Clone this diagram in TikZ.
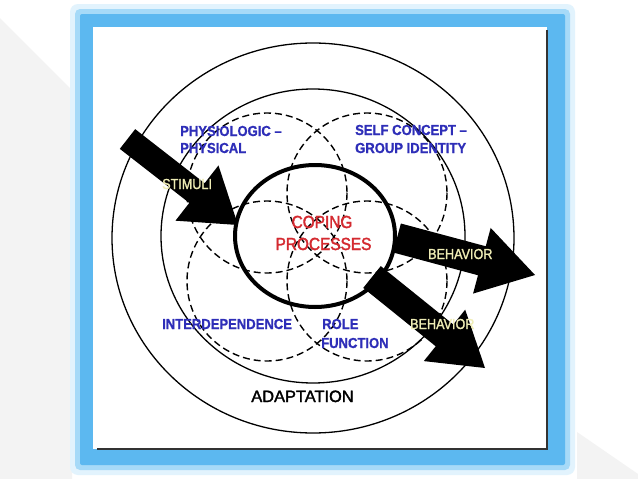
\documentclass[tikz,border=0pt]{standalone}
\usepackage{fontspec}
\setmainfont{Liberation Sans}
\newfontfamily\condfont[FakeStretch=0.9,FakeBold=0.8]{Liberation Sans}
\newfontfamily\yelfont[FakeStretch=0.87,FakeBold=1.5]{Liberation Sans}
\newfontfamily\redfont[FakeStretch=0.88,FakeBold=2]{Liberation Sans}
\newfontfamily\adaptfont[FakeBold=2]{Liberation Sans}
\usetikzlibrary{calc}
\definecolor{modeblue}{HTML}{2E2EB8}
\definecolor{copered}{HTML}{D42A30}
\definecolor{yeltext}{HTML}{EFEDB5}
\definecolor{glowA}{HTML}{E2F3FD}
\definecolor{glowB}{HTML}{A6DAF8}
\definecolor{glowC}{HTML}{5CB8F0}
\definecolor{pagegray}{HTML}{F3F3F3}
\newcommand\blockarrow[5]{%
  \coordinate (hb) at ($(#2)!#5!(#1)$);
  \fill[black] ($(#1)!#3!90:(#2)$) -- ($(hb)!#3!90:(#2)$) -- ($(hb)!#4!90:(#2)$)
    -- (#2) -- ($(hb)!#4!-90:(#2)$) -- ($(hb)!#3!-90:(#2)$) -- ($(#1)!#3!-90:(#2)$) -- cycle;}
\tikzset{
  ring/.style={draw=black, line width=1.3pt},
  dring/.style={draw=black, line width=1.4pt, dash pattern=on 7pt off 4pt},
  mode/.style={font=\condfont\bfseries\fontsize{14.5}{16}\selectfont, text=modeblue, inner sep=0pt, anchor=base west},
  yel/.style={font=\yelfont\fontsize{14.5}{16}\selectfont, text=yeltext, inner sep=0pt, anchor=base west},
  red/.style={font=\redfont\fontsize{17.5}{20}\selectfont, text=copered, inner sep=0pt, anchor=base},
  adapt/.style={font=\adaptfont\fontsize{16.4}{18}\selectfont, text=black, inner sep=0pt, anchor=base}
}
\begin{document}
\begin{tikzpicture}[x=1pt,y=-1pt]
\useasboundingbox (0,0) rectangle (638,479);
\fill[white] (0,0) rectangle (638,479);
% faint page shapes
\fill[pagegray] (0,18) -- (72,90) -- (72,479) -- (0,479) -- cycle;
\fill[pagegray] (577,432) -- (638,474) -- (638,479) -- (577,479) -- cycle;
% blue glowing frame
\fill[glowA, rounded corners=8pt] (70,4) rectangle (575,475);
\fill[glowB, rounded corners=5pt] (75,9) rectangle (570,470);
\fill[glowC, rounded corners=2pt] (80,14) rectangle (565,465);
\fill[white] (93,27) rectangle (547,449);
\draw[black!80, line width=1.5pt] (547,30) -- (547,449) -- (97,449);
% rings
\draw[ring] (313,238) ellipse [x radius=201, y radius=195];
\draw[ring] (313,236) ellipse [x radius=152, y radius=147];
% dashed mode circles
\draw[dring] (267,193) circle [radius=80];
\draw[dring] (367,193) circle [radius=80];
\draw[dring] (267,281) circle [radius=80];
\draw[dring] (367,281) circle [radius=80];
% block arrows
\coordinate (stimTail) at (127.5,139);
\coordinate (stimTip) at (238,225);
\coordinate (behATail) at (397,238);
\coordinate (behATip) at (535,275);
\coordinate (behBTail) at (372,277);
\coordinate (behBTip) at (485,368);
\blockarrow{stimTail}{stimTip}{12.5pt}{35pt}{52pt}
\blockarrow{behATail}{behATip}{15pt}{34pt}{55pt}
\blockarrow{behBTail}{behBTip}{14pt}{33pt}{52pt}
% coping circle
\draw[black, line width=4pt] (315,236) ellipse [x radius=80, y radius=71];
% labels
\node[mode] (phys1) at (180,136) {PHYSIOLOGIC –};
\node[mode] (phys2) at (180,153) {PHYSICAL};
\node[mode] (self1) at (355,135) {SELF CONCEPT –};
\node[mode] (self2) at (355,153) {GROUP IDENTITY};
\node[mode] (inter) at (162,329) {INTERDEPENDENCE};
\node[mode] (role1) at (322,329) {ROLE};
\node[mode] (role2) at (321,348) {FUNCTION};
\node[yel] (stim) at (162,189) {STIMULI};
\node[yel] (behA) at (428,259) {BEHAVIOR};
\node[yel] (behB) at (410,329) {BEHAVIOR};
\node[red] (cop1) at (322,228) {COPING};
\node[red] (cop2) at (323.5,250) {PROCESSES};
\node[adapt] (adapt) at (302.5,402) {ADAPTATION};
\end{tikzpicture}
\end{document}
